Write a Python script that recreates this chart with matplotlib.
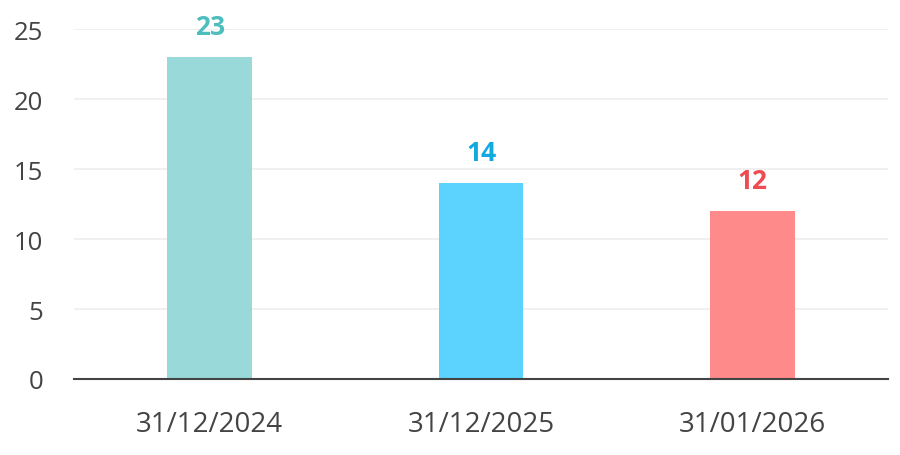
import matplotlib
matplotlib.use("Agg")
import matplotlib.pyplot as plt

categories = ["31/12/2024", "31/12/2025", "31/01/2026"]
values = [23, 14, 12]
bar_colors = ["#99D9D9", "#5CD2FF", "#FF8A8A"]
label_colors = ["#4DBDBD", "#12A8E0", "#EE4B52"]
yticks = [0, 5, 10, 15, 20, 25]

plt.rcParams['font.family'] = ['Open Sans', 'DejaVu Sans']

fig = plt.figure(figsize=(9, 4.56), dpi=100)
ax = fig.add_axes([74/900, 76/456, 814/900, 350/456])

x = list(range(len(categories)))
ax.bar(x, values, width=0.313, color=bar_colors, zorder=3)
for xi, v, c in zip(x, values, label_colors):
    ax.annotate(str(v), (xi, v), xytext=(0, 12), textcoords="offset points",
                ha="center", va="bottom", fontsize=19, fontweight="bold",
                color=c, clip_on=False, zorder=4)

ax.set_xlim(-0.5, 2.5)
ax.set_ylim(0, 25)
ax.set_yticks(yticks)
ax.set_xticks(x)
ax.set_xticklabels(categories)
ax.grid(axis="y", color="#EEEEEE", linewidth=1.2, zorder=0)
for s in ["top", "right", "left"]:
    ax.spines[s].set_visible(False)
ax.spines["bottom"].set_color("#444444")
ax.spines["bottom"].set_linewidth(1.5)
ax.spines["bottom"].set_zorder(5)
ax.tick_params(axis="y", length=0, pad=22, labelsize=18.5, labelcolor="#444444")
ax.tick_params(axis="x", length=0, pad=22, labelsize=20, labelcolor="#444444")

fig.savefig("out.png", dpi=100)
